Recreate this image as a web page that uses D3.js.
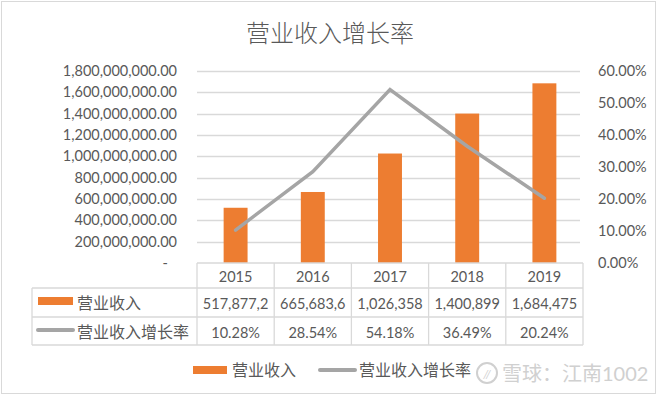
<!DOCTYPE html>
<html>
<head>
<meta charset="utf-8">
<script src="https://cdn.jsdelivr.net/npm/d3@7"></script>
<style>
  body { margin: 0; background: #fff; }
  svg text { font-family: Lato, "Noto Sans CJK SC", sans-serif; fill: #595959; }
</style>
</head>
<body>
<div class="chart"></div>
<script>
const years = ["2015", "2016", "2017", "2018", "2019"];
const revenue = [517877200, 665683600, 1026358000, 1400899000, 1684475000];
const growth = [0.1028, 0.2854, 0.5418, 0.3649, 0.2024];
const leftTicks = [0, 2e8, 4e8, 6e8, 8e8, 1e9, 1.2e9, 1.4e9, 1.6e9, 1.8e9];
const rightTicks = [0, 0.1, 0.2, 0.3, 0.4, 0.5, 0.6];
const seriesNames = ["营业收入", "营业收入增长率"];

const width = 660, height = 397;
const orange = "#ED7D31", gray = "#A5A5A5", grid = "#D9D9D9";

const svg = d3.select(".chart").append("svg")
    .attr("width", width)
    .attr("height", height);

// chart border
svg.append("rect")
    .attr("x", 1.5).attr("y", 1.5)
    .attr("width", 654).attr("height", 392)
    .attr("fill", "#fff")
    .attr("stroke", grid);

// title
svg.append("text")
    .attr("x", 330).attr("y", 32)
    .attr("text-anchor", "middle")
    .attr("dominant-baseline", "central")
    .style("font-size", "24px")
    .style("font-weight", "300")
    .text("营业收入增长率");

const plot = {left: 197, right: 583, top: 71, bottom: 263};

const xScale = d3.scaleBand()
    .domain(years)
    .range([plot.left, plot.right])
    .paddingInner(0.69)
    .paddingOuter(0.345);

const yScale = d3.scaleLinear()
    .domain([0, 1.8e9])
    .range([plot.bottom, plot.top]);

const y2Scale = d3.scaleLinear()
    .domain([0, 0.6])
    .range([plot.bottom, plot.top]);

// gridlines
svg.selectAll(".grid")
    .data(leftTicks.slice(1))
    .enter()
    .append("line")
    .attr("class", "grid")
    .attr("x1", plot.left).attr("x2", 580)
    .attr("y1", d => Math.round(yScale(d)) + 0.5)
    .attr("y2", d => Math.round(yScale(d)) + 0.5)
    .attr("stroke", grid)
    .attr("stroke-width", 1.3);

// left axis
const yAxis = d3.axisLeft(yScale)
    .tickValues(leftTicks)
    .tickSize(0)
    .tickPadding(0)
    .tickFormat(d => d === 0 ? "-" : d3.format(",.2f")(d));

const yG = svg.append("g")
    .attr("transform", "translate(177,0)")
    .call(yAxis);
yG.select(".domain").remove();
yG.selectAll("text").style("font-size", "14.5px").attr("fill", "#595959");
yG.selectAll("text").filter(d => d === 0).attr("x", -9);

// right axis
const y2Axis = d3.axisRight(y2Scale)
    .tickValues(rightTicks)
    .tickSize(0)
    .tickPadding(0)
    .tickFormat(d3.format(".2%"));

const y2G = svg.append("g")
    .attr("transform", "translate(598,0)")
    .call(y2Axis);
y2G.select(".domain").remove();
y2G.selectAll("text").style("font-size", "14.5px").attr("fill", "#595959");

// bars
svg.selectAll(".bar")
    .data(revenue)
    .enter()
    .append("rect")
    .attr("class", "bar")
    .attr("x", (d, i) => xScale(years[i]))
    .attr("y", d => yScale(d))
    .attr("width", xScale.bandwidth())
    .attr("height", d => yScale(0) - yScale(d))
    .attr("fill", orange);

// growth line
const line = d3.line()
    .x((d, i) => xScale(years[i]) + xScale.bandwidth() / 2)
    .y(d => y2Scale(d));

svg.append("path")
    .datum(growth)
    .attr("d", line)
    .attr("fill", "none")
    .attr("stroke", gray)
    .attr("stroke-width", 3.5)
    .attr("stroke-linecap", "round")
    .attr("stroke-linejoin", "miter");

// data table
const rows = [263, 288, 317, 345];
const tableLeft = 32;
const step = xScale.step();
const cols = d3.range(6).map(i => plot.left + i * step);

const table = svg.append("g").attr("stroke", grid).attr("stroke-width", 1.3);
table.append("line").attr("x1", plot.left).attr("x2", plot.right).attr("y1", rows[0]).attr("y2", rows[0]);
rows.slice(1).forEach(r => {
    table.append("line").attr("x1", tableLeft).attr("x2", plot.right).attr("y1", r).attr("y2", r);
});
cols.forEach(c => {
    table.append("line").attr("x1", c).attr("x2", c).attr("y1", rows[0]).attr("y2", rows[3]);
});
table.append("line").attr("x1", tableLeft).attr("x2", tableLeft).attr("y1", rows[1]).attr("y2", rows[3]);

const cellText = (x, y, t) => svg.append("text")
    .attr("x", x).attr("y", y)
    .attr("text-anchor", "middle")
    .attr("dominant-baseline", "central")
    .style("font-size", "14.5px")
    .text(t);

years.forEach((yr, i) => {
    const cx = xScale(yr) + xScale.bandwidth() / 2;
    cellText(cx, (rows[0] + rows[1]) / 2 + 1, yr);
    // Excel cuts the long number off at the cell edge
    cellText(cx, (rows[1] + rows[2]) / 2 + 1, d3.format(",.2f")(revenue[i]).slice(0, 9));
    cellText(cx, (rows[2] + rows[3]) / 2 + 1, d3.format(".2%")(growth[i]));
});

// table legend keys
svg.append("rect")
    .attr("x", 38).attr("y", 297).attr("width", 35).attr("height", 8)
    .attr("fill", orange);
svg.append("text")
    .attr("x", 77).attr("y", (rows[1] + rows[2]) / 2)
    .attr("dominant-baseline", "central")
    .style("font-size", "16px")
    .text(seriesNames[0]);
svg.append("line")
    .attr("x1", 38).attr("x2", 73).attr("y1", 330).attr("y2", 330)
    .attr("stroke", gray).attr("stroke-width", 4).attr("stroke-linecap", "round");
svg.append("text")
    .attr("x", 77).attr("y", (rows[2] + rows[3]) / 2)
    .attr("dominant-baseline", "central")
    .style("font-size", "16px")
    .text(seriesNames[1]);

// bottom legend
svg.append("rect")
    .attr("x", 193).attr("y", 366).attr("width", 34).attr("height", 8)
    .attr("fill", orange);
svg.append("text")
    .attr("x", 232).attr("y", 369)
    .attr("dominant-baseline", "central")
    .style("font-size", "16px")
    .text(seriesNames[0]);
svg.append("line")
    .attr("x1", 320).attr("x2", 355).attr("y1", 370).attr("y2", 370)
    .attr("stroke", gray).attr("stroke-width", 4).attr("stroke-linecap", "round");
svg.append("text")
    .attr("x", 359).attr("y", 369)
    .attr("dominant-baseline", "central")
    .style("font-size", "16px")
    .text(seriesNames[1]);

// watermark
svg.append("circle")
    .attr("cx", 487).attr("cy", 373).attr("r", 10)
    .attr("fill", "none").attr("stroke", "#d0d0d0").attr("stroke-width", 2);
svg.append("text")
    .attr("x", 487).attr("y", 373)
    .attr("text-anchor", "middle")
    .attr("dominant-baseline", "central")
    .style("font-size", "12px").style("font-style", "italic")
    .style("fill", "#d0d0d0")
    .text("//");
svg.append("text")
    .attr("x", 502).attr("y", 373)
    .attr("dominant-baseline", "central")
    .style("font-size", "20px")
    .style("fill", "#d0d0d0")
    .text("雪球：江南1002");
</script>
</body>
</html>
